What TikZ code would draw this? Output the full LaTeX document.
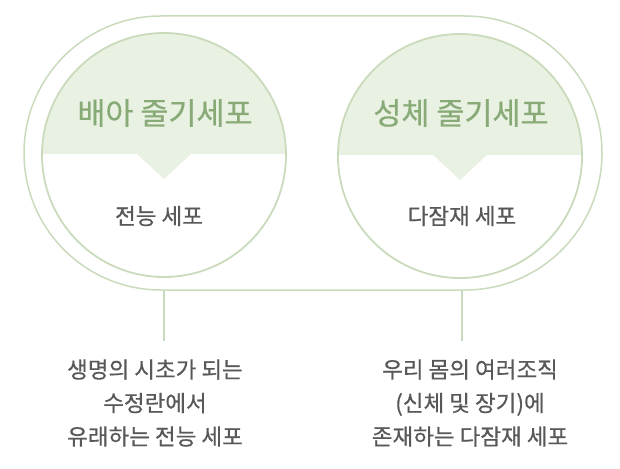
\documentclass[tikz,border=0pt]{standalone}
\usepackage{fontspec}
\setmainfont{Noto Sans CJK KR}[FakeBold=0.5]
\usepackage{xcolor}
\usepackage{tikz}
\usetikzlibrary{positioning}
\definecolor{linegreen}{RGB}{202,219,188}
\definecolor{bandgreen}{RGB}{233,241,226}
\definecolor{titlegreen}{RGB}{136,170,118}
\definecolor{textgray}{RGB}{88,88,88}
\tikzset{
    pill/.style={rectangle, rounded corners=137pt, minimum width=578pt, minimum height=274pt, draw=linegreen, line width=1.5pt},
    cell/.style={circle, minimum size=244pt, draw=linegreen, line width=1.8pt,
        path picture={
            \fill[bandgreen] (path picture bounding box.north west) rectangle ([yshift=1pt]path picture bounding box.east);
            \fill[bandgreen] ([shift={(-27,-1)}]path picture bounding box.center) -- ++(27,25) -- ++(27,-25) -- cycle;
        }},
    celltitle/.style={font=\fontsize{30.5}{34}\selectfont, text=titlegreen},
    cellsub/.style={font=\fontsize{22.5}{26}\selectfont, text=textgray},
    desc/.style={align=center, font=\fontsize{22.5}{33.5}\selectfont, text=textgray},
    link/.style={draw=linegreen, line width=1.5pt}
}

\begin{document}
\begin{tikzpicture}[x=1pt, y=-1pt]
    \useasboundingbox (0,0) rectangle (620,468);
    \node (frame) [pill] at (313,153) {};

    \node (embryo) [cell] at (164,155) {};
    \node (adult) [cell] at (460,156) {};

    \node (embryotitle) [celltitle] at (165,113) {배아 줄기세포};
    \node (adulttitle) [celltitle] at (461,113) {성체 줄기세포};
    \node (embryosub) [cellsub] at (159,216) {전능 세포};
    \node (adultsub) [cellsub] at (462,216) {다잠재 세포};

    \coordinate (embryoend) at (164,341);
    \coordinate (adultend) at (462,341);
    \node (embryodesc) [desc] at (155,403) {생명의 시초가 되는\\수정란에서\\유래하는 전능 세포};
    \node (adultdesc) [desc] at (470,403) {우리 몸의 여러조직\\(신체 및 장기)에\\존재하는 다잠재 세포};

    \draw [link] (embryoend |- frame.south) -- (embryoend);
    \draw [link] (adultend |- frame.south) -- (adultend);
\end{tikzpicture}
\end{document}
